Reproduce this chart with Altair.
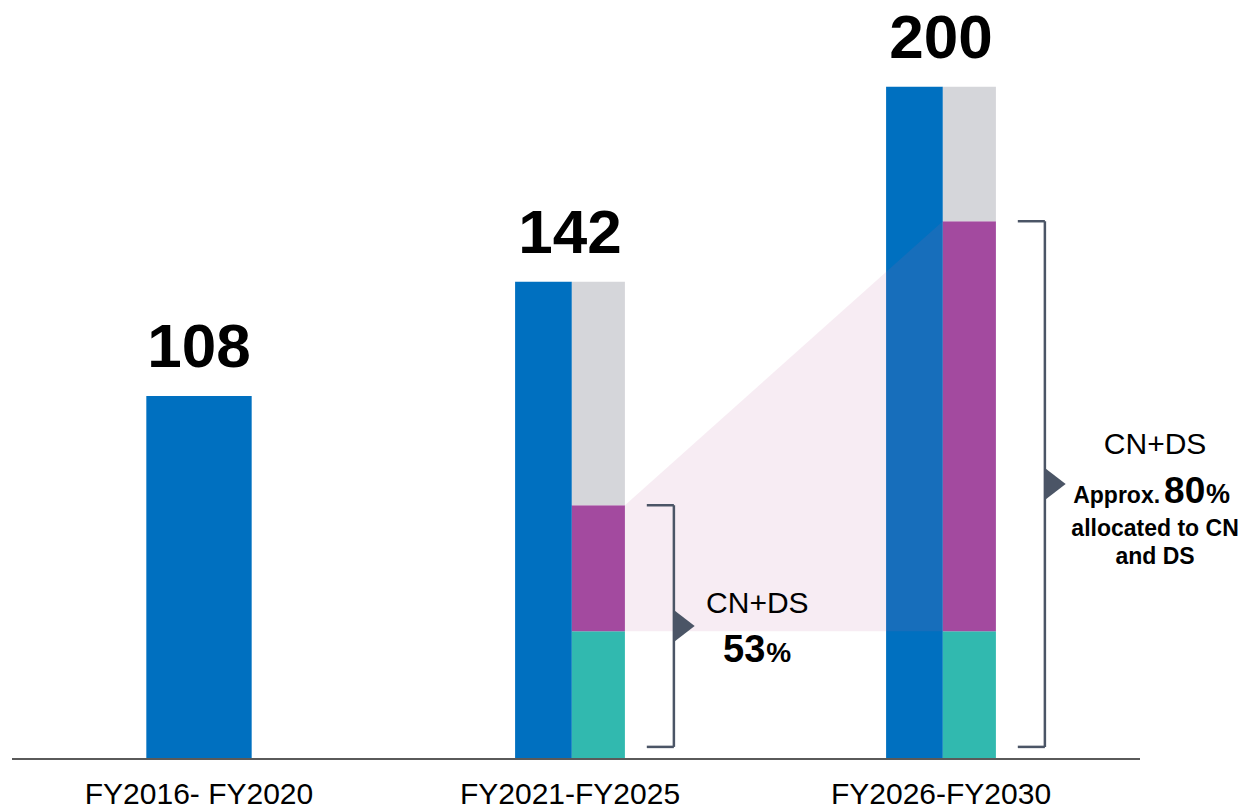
import altair as alt
import pandas as pd

# ---------------- data ----------------
categories = ["FY2016- FY2020", "FY2021-FY2025", "FY2026-FY2030"]
totals = [108, 142, 200]
teal_part = [None, 38, 38]        # lower segment (teal)
purple_part = [None, 37.5, 122]   # middle segment (purple)
gray_part = [None, 66.5, 40]      # upper segment (gray)
share_pct = [None, "53", "80"]

# ---------------- layout ----------------
W, H = 1242, 812
ORIGIN_PX, STEP_PX = 199, 371
BASE_PX, PX_PER_UNIT = 759, 3.3611
FONT = "Liberation Sans"

x_dom = [-ORIGIN_PX / STEP_PX, (W - ORIGIN_PX) / STEP_PX]
y_dom = [-(H - BASE_PX) / PX_PER_UNIT, BASE_PX / PX_PER_UNIT]
xs = alt.Scale(domain=x_dom, nice=False, zero=False)
ys = alt.Scale(domain=y_dom, nice=False, zero=False)

SINGLE_HALF = 0.142
BAR_HALF = 0.148
SPLIT = 0.005
BR_X = 0.28
BR_TICK = 0.073
BR_BOTTOM = 3.6
TXT_DX = [0, 0.505, 0.577]

# bars
rows = []
for i, tot in enumerate(totals):
    if teal_part[i] is None:
        rows.append(dict(seg="blue", x=i - SINGLE_HALF, x2=i + SINGLE_HALF, y=0, y2=tot))
    else:
        rows.append(dict(seg="blue", x=i - BAR_HALF, x2=i + SPLIT, y=0, y2=tot))
        a = teal_part[i]
        b = a + purple_part[i]
        rows.append(dict(seg="teal", x=i + SPLIT, x2=i + BAR_HALF, y=0, y2=a))
        rows.append(dict(seg="purple", x=i + SPLIT, x2=i + BAR_HALF, y=a, y2=b))
        rows.append(dict(seg="gray", x=i + SPLIT, x2=i + BAR_HALF, y=b, y2=b + gray_part[i]))
bars_df = pd.DataFrame(rows)

color_scale = alt.Scale(domain=["blue", "teal", "purple", "gray"],
                        range=["#0070c0", "#31b9af", "#a34a9f", "#d5d6da"])

bars = alt.Chart(bars_df).mark_rect().encode(
    x=alt.X("x:Q", scale=xs, axis=None),
    x2="x2:Q",
    y=alt.Y("y:Q", scale=ys, axis=None),
    y2="y2:Q",
    color=alt.Color("seg:N", scale=color_scale, legend=None),
)

# pink connecting band
area_df = pd.DataFrame({
    "x": [1 + BAR_HALF, 2 + SPLIT],
    "y": [teal_part[1] + purple_part[1], teal_part[2] + purple_part[2]],
    "y2": [teal_part[1], teal_part[2]],
})
band = alt.Chart(area_df).mark_area(color="#c060a0", opacity=0.12).encode(
    x=alt.X("x:Q", scale=xs, axis=None),
    y=alt.Y("y:Q", scale=ys, axis=None),
    y2="y2:Q",
)

# brackets
v_rows, h_rows, tri_rows = [], [], []
for i in (1, 2):
    top = teal_part[i] + purple_part[i]
    v_rows.append(dict(x=i + BR_X, y=BR_BOTTOM, y2=top))
    h_rows.append(dict(x=i + BR_X - BR_TICK, x2=i + BR_X, y=top))
    h_rows.append(dict(x=i + BR_X - BR_TICK, x2=i + BR_X, y=BR_BOTTOM))
    tri_rows.append(dict(x=i + BR_X, y=(top + BR_BOTTOM) / 2))
BR_COLOR = "#4b5566"
vrule = alt.Chart(pd.DataFrame(v_rows)).mark_rule(color=BR_COLOR, strokeWidth=2.5).encode(
    x=alt.X("x:Q", scale=xs, axis=None), y=alt.Y("y:Q", scale=ys, axis=None), y2="y2:Q")
hrule = alt.Chart(pd.DataFrame(h_rows)).mark_rule(color=BR_COLOR, strokeWidth=2.5).encode(
    x=alt.X("x:Q", scale=xs, axis=None), x2="x2:Q", y=alt.Y("y:Q", scale=ys, axis=None))
tri = alt.Chart(pd.DataFrame(tri_rows)).mark_point(
    shape="M0,-1L1.3,0L0,1Z", size=1024, filled=True, color=BR_COLOR, opacity=1, strokeWidth=0
).encode(x=alt.X("x:Q", scale=xs, axis=None), y=alt.Y("y:Q", scale=ys, axis=None))

# baseline
base_df = pd.DataFrame({"x": [x_dom[0] + 12 / STEP_PX], "x2": [(1140 - ORIGIN_PX) / STEP_PX], "y": [0]})
baseline = alt.Chart(base_df).mark_rule(color="#5a5a5a", strokeWidth=2).encode(
    x=alt.X("x:Q", scale=xs, axis=None), x2="x2:Q", y=alt.Y("y:Q", scale=ys, axis=None))


def text_layer(df, size, bold=False, align="center", dy=0, dx=0):
    return alt.Chart(df).mark_text(
        font=FONT, fontSize=size, fontWeight="bold" if bold else "normal",
        align=align, baseline="alphabetic", dx=dx, dy=dy, color="black"
    ).encode(
        x=alt.X("x:Q", scale=xs, axis=None),
        y=alt.Y("y:Q", scale=ys, axis=None),
        text="t:N",
    )


tot_df = pd.DataFrame({"x": list(range(3)), "y": totals, "t": [str(v) for v in totals]})
cat_df = pd.DataFrame({"x": list(range(3)), "y": [0] * 3, "t": categories})

top_labels = text_layer(tot_df, 62, bold=True, dy=-29)
cat_labels = text_layer(cat_df, 30, dy=45)

mid1 = (teal_part[1] + purple_part[1] + BR_BOTTOM) / 2
mid2 = (teal_part[2] + purple_part[2] + BR_BOTTOM) / 2
c1 = 1 + TXT_DX[1]
c2 = 2 + TXT_DX[2]

def one(x, y, t):
    return pd.DataFrame({"x": [x], "y": [y], "t": [t]})

texts = [
    text_layer(one(c1, mid1, "CN+DS"), 30, dy=-13),
    text_layer(one(c1, mid1, share_pct[1]), 38, bold=True, align="right", dy=36, dx=8),
    text_layer(one(c1, mid1, "%"), 28, bold=True, align="left", dy=36, dx=9),
    text_layer(one(c2, mid2, "CN+DS"), 30, dy=-30),
    text_layer(one(c2, mid2, "Approx."), 23, bold=True, align="right", dy=19, dx=5),
    text_layer(one(c2, mid2, share_pct[2]), 37, bold=True, align="left", dy=19, dx=9),
    text_layer(one(c2, mid2, "%"), 27, bold=True, align="left", dy=19, dx=51),
    text_layer(one(c2, mid2, "allocated to CN"), 23, bold=True, dy=52),
    text_layer(one(c2, mid2, "and DS"), 23, bold=True, dy=80),
]

chart = alt.layer(
    bars, band, baseline, vrule, hrule, tri, top_labels, cat_labels, *texts
).properties(
    width=W, height=H, padding=0, autosize=alt.AutoSizeParams(type="none"),
    background="white",
).configure_view(stroke=None)

chart.save("out.html", embed_options={"renderer": "svg", "actions": False})
